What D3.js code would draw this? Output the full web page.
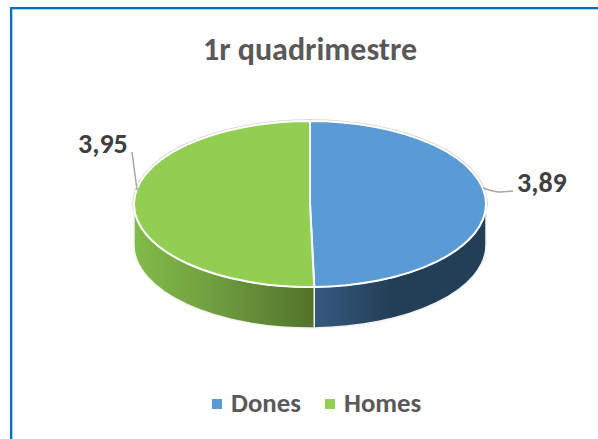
<!doctype html>
<html>

<head>
  <meta charset="UTF-8" />
  <title>1r quadrimestre</title>
  <style>
    html,
    body {
      margin: 0;
      background: #fff;
    }

    svg {
      display: block;
      font-family: Carlito, "Open Sans", "Noto Sans", sans-serif;
      font-weight: bold;
    }
  </style>
</head>

<body>
  <script src="https://cdn.jsdelivr.net/npm/d3@7"></script>
  <script>
    // data
    const categories = ['Dones', 'Homes'];
    const values = [3.89, 3.95];
    const labels = ['3,89', '3,95'];
    const colors = ['#5b9bd5', '#92ce51'];

    const width = 598, height = 439;
    const cx = 310, cy = 204, rx = 176, ry = 83, depth = 41;

    const svg = d3.select('body').append('svg')
      .attr('width', width)
      .attr('height', height);

    // frame, dark line with a pale line just inside it
    svg.append('rect')
      .attr('x', 12.5).attr('y', 9.5)
      .attr('width', 590).attr('height', 440)
      .attr('fill', '#fff')
      .attr('stroke', '#a9d3f0')
      .attr('stroke-width', 1);
    svg.append('rect')
      .attr('x', 11).attr('y', 8)
      .attr('width', 590).attr('height', 440)
      .attr('fill', 'none')
      .attr('stroke', '#0070c0')
      .attr('stroke-width', 2);

    svg.append('text')
      .attr('x', 310).attr('y', 60)
      .attr('text-anchor', 'middle')
      .attr('font-size', 32)
      .attr('fill', '#595959')
      .text('1r quadrimestre');

    // side wall gradients
    const defs = svg.append('defs');
    const grads = [
      [['0%', '#35597e'], ['45%', '#233f57'], ['100%', '#233f57']],
      [['0%', '#82bb48'], ['50%', '#6c9a3e'], ['100%', '#51722a']]
    ];
    grads.forEach((stops, i) => {
      const g = defs.append('linearGradient').attr('id', `wall${i}`);
      stops.forEach(s => g.append('stop').attr('offset', s[0]).attr('stop-color', s[1]));
    });

    const pie = d3.pie().sort(null).value(d => d);
    const slices = pie(values);
    const arc = d3.arc().innerRadius(0).outerRadius(rx);
    const squash = `translate(${cx},${cy}) scale(1,${ry / rx})`;

    const px = a => cx + rx * Math.sin(a);
    const py = a => cy - ry * Math.cos(a);

    // thin grey rim outside the white edge, walls cover its lower half
    svg.append('g')
      .attr('transform', squash)
      .selectAll('path')
      .data(slices)
      .join('path')
      .attr('d', arc)
      .attr('fill', 'none')
      .attr('stroke', '#d4d4d4')
      .attr('stroke-width', 3.5)
      .attr('vector-effect', 'non-scaling-stroke');

    // wall of a slice: only the part of the rim that faces the viewer
    function wall(d) {
      const a0 = Math.max(d.startAngle, Math.PI / 2);
      const a1 = Math.min(d.endAngle, Math.PI * 1.5);
      return `M${px(a0)},${py(a0)}`
        + `A${rx},${ry} 0 0 1 ${px(a1)},${py(a1)}`
        + `V${py(a1) + depth}`
        + `A${rx},${ry} 0 0 0 ${px(a0)},${py(a0) + depth}Z`;
    }

    svg.selectAll('path.wall')
      .data(slices)
      .join('path')
      .attr('class', 'wall')
      .attr('d', wall)
      .attr('fill', (d, i) => `url(#wall${i})`)
      .attr('stroke', '#f2f2f2')
      .attr('stroke-width', 1.5);

    // top face, a circle squashed to an ellipse
    svg.append('g')
      .attr('transform', squash)
      .selectAll('path')
      .data(slices)
      .join('path')
      .attr('d', arc)
      .attr('fill', (d, i) => colors[i])
      .attr('stroke', '#fff')
      .attr('stroke-width', 2)
      .attr('vector-effect', 'non-scaling-stroke');

    // leader lines
    const leaderX = [[483, 500, 513], [137, 132]];
    const leaderY = [[188, 192, 191], [190, 152]];
    const line = d3.line().curve(d3.curveMonotoneX);
    leaderX.forEach((xs, i) => {
      svg.append('path')
        .attr('d', i === 0 ? line(d3.zip(xs, leaderY[i])) : d3.line()(d3.zip(xs, leaderY[i])))
        .attr('fill', 'none')
        .attr('stroke', '#a6a6a6')
        .attr('stroke-width', 1.5);
    });

    const labelX = [517, 78];
    const labelY = [192, 153];
    svg.selectAll('text.value')
      .data(labels)
      .join('text')
      .attr('class', 'value')
      .attr('x', (d, i) => labelX[i])
      .attr('y', (d, i) => labelY[i])
      .attr('font-size', 28)
      .attr('fill', '#404040')
      .text(d => d);

    // legend
    const legendX = [212, 325];
    const legend = svg.selectAll('g.legend')
      .data(categories)
      .join('g')
      .attr('class', 'legend')
      .attr('transform', (d, i) => `translate(${legendX[i]},399)`);
    legend.append('rect')
      .attr('width', 10).attr('height', 10)
      .attr('fill', (d, i) => colors[i]);
    legend.append('text')
      .attr('x', 19).attr('y', 13)
      .attr('font-size', 26.8)
      .attr('fill', '#595959')
      .text(d => d);
  </script>
</body>

</html>
